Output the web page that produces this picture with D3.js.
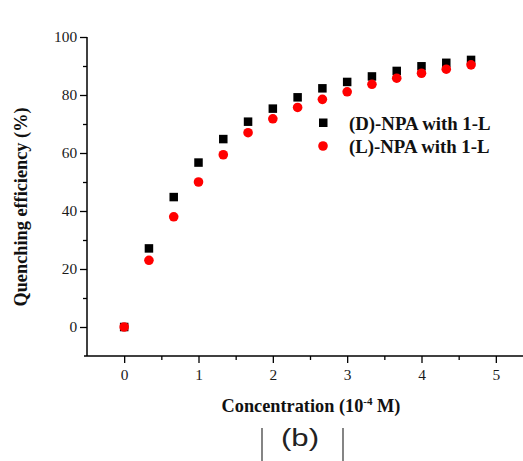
<!DOCTYPE html>
<html>
<head>
<meta charset="utf-8">
<script src="https://cdn.jsdelivr.net/npm/d3@7"></script>
<style>
  html, body { margin: 0; padding: 0; background: #fff; }
  svg { display: block; }
</style>
</head>
<body>
<svg id="chart" width="523" height="461"></svg>
<script>
// Concentration steps (10^-4 M)
const concentration = [0, 1/3, 2/3, 1, 4/3, 5/3, 2, 7/3, 8/3, 3, 10/3, 11/3, 4, 13/3, 14/3];
// Quenching efficiency (%) for each enantiomer
const dNPA = [0, 27.1, 44.8, 56.7, 64.8, 70.8, 75.3, 79.2, 82.3, 84.5, 86.4, 88.3, 89.9, 91.1, 92.1];
const lNPA = [0, 23.0, 38.0, 50.0, 59.4, 67.0, 71.8, 75.7, 78.5, 81.1, 83.7, 85.8, 87.5, 88.9, 90.4];
const seriesNames = ["(D)-NPA with 1-L", "(L)-NPA with 1-L"];
const xTicks = [0, 1, 2, 3, 4, 5];
const yTicks = [0, 20, 40, 60, 80, 100];

const svg = d3.select("#chart");
const serif = "'Liberation Serif', 'Times New Roman', serif";

const x = d3.scaleLinear().domain([-0.5, 5.5]).range([87, 533]);
const y = d3.scaleLinear().domain([-10, 100]).range([356, 37]);

// Minor ticks
const xMinor = d3.range(-0.5, 5.6, 0.5).filter(v => !xTicks.includes(v) && v > -0.5);
const yMinor = d3.range(-10, 101, 10).filter(v => !yTicks.includes(v) && v > -10);

const gx = svg.append("g").attr("transform", `translate(0,${y(-10)})`);
gx.call(d3.axisBottom(x).tickValues(xMinor).tickSize(4).tickFormat(""))
  .call(g => g.select(".domain").remove());
gx.append("g").attr("class", "xmajor")
  .call(d3.axisBottom(x).tickValues(xTicks).tickSize(7).tickPadding(7).tickFormat(d3.format("d")))
  .call(g => g.select(".domain").remove());
gx.append("line").attr("x1", 84).attr("x2", 523).attr("stroke", "#000").attr("stroke-width", 1.5);

const gy = svg.append("g").attr("transform", `translate(${x(-0.5)},0)`);
gy.call(d3.axisLeft(y).tickValues(yMinor).tickSize(4).tickFormat(""))
  .call(g => g.select(".domain").remove());
gy.append("g").attr("class", "ymajor")
  .call(d3.axisLeft(y).tickValues(yTicks).tickSize(7).tickPadding(2).tickFormat(d3.format("d")))
  .call(g => g.select(".domain").remove());
gy.append("line").attr("y1", y(100)).attr("y2", y(-10)).attr("stroke", "#000").attr("stroke-width", 1.5);

svg.selectAll(".tick line").attr("stroke", "#000").attr("stroke-width", 1.3);
svg.selectAll(".tick text").attr("font-family", serif).attr("font-size", 14).attr("fill", "#1a1a1a")
  .attr("transform", "scale(1.1,1)");

// Data markers
const sq = 8.5;
svg.append("g").selectAll("rect").data(concentration.map((c, i) => [c, dNPA[i]]))
  .join("rect")
  .attr("x", d => x(d[0]) - sq / 2).attr("y", d => y(d[1]) - sq / 2)
  .attr("width", sq).attr("height", sq).attr("fill", "#000");
svg.append("g").selectAll("circle").data(concentration.map((c, i) => [c, lNPA[i]]))
  .join("circle")
  .attr("cx", d => x(d[0])).attr("cy", d => y(d[1]))
  .attr("r", 4.8).attr("fill", "#f00");

// Legend
const legend = svg.append("g");
legend.append("rect").attr("x", 319).attr("y", 118.5).attr("width", sq).attr("height", sq).attr("fill", "#000");
legend.append("circle").attr("cx", 323).attr("cy", 146).attr("r", 4.8).attr("fill", "#f00");
seriesNames.forEach((name, i) => {
  legend.append("text").attr("x", 349).attr("y", 129.5 + i * 23.5)
    .attr("font-family", serif).attr("font-weight", "bold").attr("font-size", 18.8)
    .attr("fill", "#111").text(name);
});

// Axis titles
svg.append("text")
  .attr("transform", `translate(26.5,${207}) rotate(-90)`)
  .attr("text-anchor", "middle")
  .attr("font-family", serif).attr("font-weight", "bold").attr("font-size", 18.3)
  .attr("fill", "#111").text("Quenching efficiency (%)");

const xt = svg.append("text")
  .attr("x", 311).attr("y", 412)
  .attr("text-anchor", "middle")
  .attr("font-family", serif).attr("font-weight", "bold").attr("font-size", 18.3)
  .attr("fill", "#111");
xt.append("tspan").text("Concentration (10");
xt.append("tspan").attr("dy", -7).attr("font-size", 11).text("-4");
xt.append("tspan").attr("dy", 7).text(" M)");

// Panel label
svg.append("text")
  .attr("transform", "translate(300,446) scale(1.3,1)")
  .attr("text-anchor", "middle")
  .attr("font-family", "'Liberation Sans', Arial, sans-serif").attr("font-size", 24)
  .attr("fill", "#222").text("(b)");
[262, 343].forEach(px => {
  svg.append("line").attr("x1", px).attr("x2", px).attr("y1", 428).attr("y2", 461)
    .attr("stroke", "#333").attr("stroke-width", 1.2);
});
</script>
</body>
</html>
